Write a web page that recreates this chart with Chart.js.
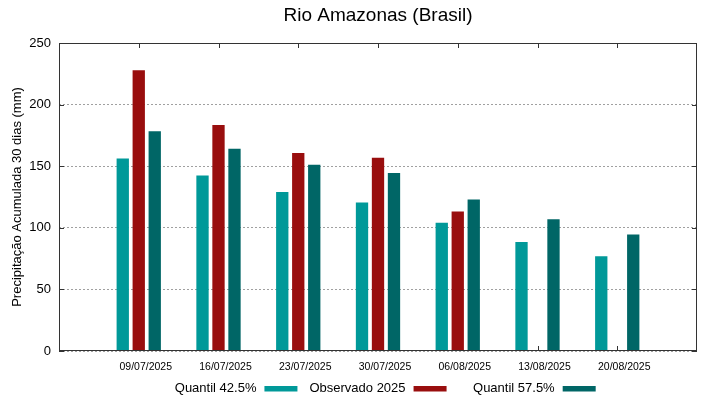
<!DOCTYPE html>
<html><head><meta charset="utf-8">
<script src="https://cdn.jsdelivr.net/npm/chart.js@4.4.1/dist/chart.umd.min.js"></script>
<style>html,body{margin:0;padding:0;background:#fff;}</style>
</head><body>
<canvas id="c" width="719" height="399"></canvas>
<script>
const categories = ['09/07/2025','16/07/2025','23/07/2025','30/07/2025','06/08/2025','13/08/2025','20/08/2025'];
const quantil425 = [156.3, 142.5, 129.0, 120.5, 104.2, 88.5, 76.9];
const observado2025 = [227.8, 183.5, 160.7, 156.9, 113.2, null, null];
const quantil575 = [178.3, 164.2, 151.2, 144.5, 123.0, 107.0, 94.5];
const yTickStep = 50;
const yMin = 0, yMax = 250;
const seriesNames = ['Quantil 42.5%', 'Observado 2025', 'Quantil 57.5%'];
const seriesColors = ['#009999', '#990e0e', '#006666'];
const titleText = 'Rio Amazonas (Brasil)';
const yTitle = 'Precipitação Acumulada 30 dias (mm)';

const FONT = "'Liberation Sans', Arial, sans-serif";
Chart.defaults.font.family = FONT;
Chart.defaults.color = '#000';

const pad = arr => [null, ...arr, null];
const labels = ['', ...categories, ''];

const gnuFrame = {
  id: 'gnuFrame',
  beforeDatasetsDraw(chart) {
    const {ctx, chartArea: a, scales: {x, y}} = chart;
    ctx.save();
    ctx.strokeStyle = '#333';
    ctx.lineWidth = 1;
    ctx.beginPath();
    for (let i = 1; i <= categories.length; i++) {
      const px = Math.round(x.getPixelForValue(i)) + 0.5;
      ctx.moveTo(px, a.top); ctx.lineTo(px, a.top + 5);
      ctx.moveTo(px, a.bottom); ctx.lineTo(px, a.bottom - 5);
    }
    y.ticks.forEach(t => {
      const py = Math.round(y.getPixelForValue(t.value)) + 0.5;
      ctx.moveTo(a.left, py); ctx.lineTo(a.left + 5, py);
      ctx.moveTo(a.right, py); ctx.lineTo(a.right - 5, py);
    });
    ctx.stroke();
    ctx.restore();
  },
  afterDatasetsDraw(chart) {
    const {ctx, chartArea: a} = chart;
    ctx.save();
    ctx.strokeStyle = '#333';
    ctx.lineWidth = 1;
    ctx.strokeRect(Math.round(a.left) + 0.5, Math.round(a.top) + 0.5,
      Math.round(a.right - a.left) - 1, Math.round(a.bottom - a.top) - 1);
    ctx.restore();
  },
  afterDraw(chart) {
    const {ctx, chartArea: a} = chart;
    const ds = chart.data.datasets;
    ctx.save();
    ctx.font = '13px ' + FONT;
    ctx.fillStyle = '#000';
    ctx.textBaseline = 'alphabetic';
    ctx.textAlign = 'right';
    const widths = ds.map(d => ctx.measureText(d.label).width);
    const maxW = Math.max(...widths);
    const gap = 8, sw = 33, sp = 12;
    const colW = maxW + gap + sw + sp;
    const total = ds.length * colW - sp;
    const cx = (a.left + a.right) / 2;
    const start = cx - total / 2;
    const ty = 392;
    ds.forEach((d, i) => {
      const te = start + i * colW + maxW;
      ctx.fillText(d.label, te, ty);
      ctx.fillStyle = d.backgroundColor;
      ctx.fillRect(te + gap, 386, sw, 5.5);
      ctx.fillStyle = '#000';
    });
    ctx.restore();
  }
};

new Chart(document.getElementById('c'), {
  type: 'bar',
  data: {
    labels,
    datasets: [
      {label: seriesNames[0], data: pad(quantil425), backgroundColor: seriesColors[0]},
      {label: seriesNames[1], data: pad(observado2025), backgroundColor: seriesColors[1]},
      {label: seriesNames[2], data: pad(quantil575), backgroundColor: seriesColors[2]}
    ]
  },
  options: {
    responsive: false,
    animation: false,
    devicePixelRatio: 1,
    layout: {padding: {left: 0, right: 22, top: 0, bottom: 0}},
    datasets: {bar: {categoryPercentage: 0.6015, barPercentage: 0.77, borderWidth: 0}},
    plugins: {
      legend: {display: false},
      tooltip: {enabled: false},
      title: {
        display: true, text: titleText, fullSize: false,
        font: {size: 19, weight: 'normal'}, color: '#000',
        padding: {top: 4.5, bottom: 15.7}
      }
    },
    scales: {
      x: {
        type: 'category', offset: false,
        grid: {display: false, drawTicks: false},
        border: {display: false},
        ticks: {font: {size: 10.5}, color: '#000', padding: 10, labelOffset: 7, maxRotation: 0, autoSkip: false},
        afterFit(s) { s.height = 48; }
      },
      y: {
        min: yMin, max: yMax,
        ticks: {stepSize: yTickStep, font: {size: 13}, color: '#000', padding: 8},
        grid: {color: '#a0a0a0', drawTicks: false, lineWidth: 1},
        border: {display: false, dash: [2, 2]},
        title: {display: true, text: yTitle, font: {size: 13}, color: '#000', padding: {top: 10, bottom: 0}},
        afterFit(s) { s.width = 59; }
      }
    }
  },
  plugins: [gnuFrame]
});
</script>
</body></html>
